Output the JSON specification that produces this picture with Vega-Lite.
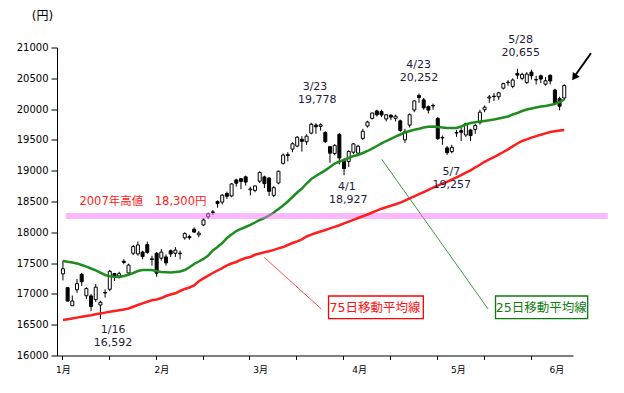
{
  "$schema": "https://vega.github.io/schema/vega-lite/v6.json",
  "width": 516,
  "height": 308,
  "autosize": "none",
  "padding": {"left": 57, "top": 47.5, "right": 51, "bottom": 37.5},
  "background": "white",
  "config": {
    "view": {"stroke": null},
    "font": "DejaVu Sans, Noto Sans CJK JP",
    "axis": {"labelFont": "DejaVu Sans, Noto Sans CJK JP", "titleFont": "DejaVu Sans, Noto Sans CJK JP"}
  },
  "resolve": {"axis": {"x": "independent", "y": "independent"}},
  "datasets": {
    "candles": [
      {"i":0,"o":17325,"h":17540,"l":17219,"c":17408},
      {"i":1,"o":17101,"h":17111,"l":16881,"c":16883},
      {"i":2,"o":16808,"h":16974,"l":16808,"c":16885},
      {"i":3,"o":17067,"h":17243,"l":17016,"c":17167},
      {"i":4,"o":17318,"h":17342,"l":17129,"c":17197},
      {"i":5,"o":16970,"h":17108,"l":16918,"c":17087},
      {"i":6,"o":16967,"h":17000,"l":16720,"c":16795},
      {"i":7,"o":16907,"h":17160,"l":16870,"c":17108},
      {"i":8,"o":16820,"h":16890,"l":16592,"c":16864},
      {"i":9,"o":17023,"h":17075,"l":16940,"c":17014},
      {"i":10,"o":17075,"h":17390,"l":17044,"c":17366},
      {"i":11,"o":17330,"h":17340,"l":17210,"c":17280},
      {"i":12,"o":17290,"h":17359,"l":17250,"c":17329},
      {"i":13,"o":17530,"h":17564,"l":17480,"c":17511},
      {"i":14,"o":17340,"h":17490,"l":17330,"c":17468},
      {"i":15,"o":17660,"h":17795,"l":17630,"c":17768},
      {"i":16,"o":17650,"h":17850,"l":17620,"c":17795},
      {"i":17,"o":17680,"h":17700,"l":17560,"c":17606},
      {"i":18,"o":17800,"h":17850,"l":17650,"c":17674},
      {"i":19,"o":17570,"h":17620,"l":17460,"c":17558},
      {"i":20,"o":17660,"h":17680,"l":17280,"c":17336},
      {"i":21,"o":17580,"h":17730,"l":17540,"c":17678},
      {"i":22,"o":17600,"h":17640,"l":17460,"c":17504},
      {"i":23,"o":17700,"h":17720,"l":17600,"c":17648},
      {"i":24,"o":17660,"h":17760,"l":17600,"c":17711},
      {"i":25,"o":17660,"h":17700,"l":17560,"c":17652},
      {"i":26,"o":17910,"h":18000,"l":17880,"c":17979},
      {"i":27,"o":17930,"h":17960,"l":17880,"c":17913},
      {"i":28,"o":18050,"h":18080,"l":17990,"c":18004},
      {"i":29,"o":17960,"h":18020,"l":17920,"c":17987},
      {"i":30,"o":18120,"h":18230,"l":18100,"c":18199},
      {"i":31,"o":18250,"h":18320,"l":18220,"c":18300},
      {"i":32,"o":18320,"h":18360,"l":18280,"c":18332},
      {"i":33,"o":18500,"h":18520,"l":18400,"c":18466},
      {"i":34,"o":18490,"h":18620,"l":18450,"c":18603},
      {"i":35,"o":18630,"h":18660,"l":18540,"c":18585},
      {"i":36,"o":18590,"h":18800,"l":18570,"c":18785},
      {"i":37,"o":18850,"h":18870,"l":18740,"c":18797},
      {"i":38,"o":18870,"h":18880,"l":18700,"c":18826},
      {"i":39,"o":18900,"h":18920,"l":18760,"c":18815},
      {"i":40,"o":18690,"h":18740,"l":18600,"c":18703},
      {"i":41,"o":18680,"h":18760,"l":18650,"c":18752},
      {"i":42,"o":18830,"h":18990,"l":18800,"c":18971},
      {"i":43,"o":18900,"h":18920,"l":18720,"c":18790},
      {"i":44,"o":18880,"h":18900,"l":18590,"c":18665},
      {"i":45,"o":18600,"h":18750,"l":18570,"c":18723},
      {"i":46,"o":18800,"h":19000,"l":18780,"c":18991},
      {"i":47,"o":19120,"h":19280,"l":19100,"c":19254},
      {"i":48,"o":19260,"h":19300,"l":19150,"c":19246},
      {"i":49,"o":19350,"h":19460,"l":19300,"c":19437},
      {"i":50,"o":19400,"h":19560,"l":19380,"c":19544},
      {"i":51,"o":19510,"h":19560,"l":19310,"c":19476},
      {"i":52,"o":19470,"h":19590,"l":19420,"c":19560},
      {"i":53,"o":19610,"h":19778,"l":19590,"c":19754},
      {"i":54,"o":19740,"h":19770,"l":19600,"c":19713},
      {"i":55,"o":19720,"h":19770,"l":19650,"c":19746},
      {"i":56,"o":19620,"h":19640,"l":19450,"c":19471},
      {"i":57,"o":19390,"h":19400,"l":19130,"c":19285},
      {"i":58,"o":19280,"h":19430,"l":19250,"c":19411},
      {"i":59,"o":19590,"h":19610,"l":19100,"c":19207},
      {"i":60,"o":19150,"h":19200,"l":18927,"c":19035},
      {"i":61,"o":19150,"h":19330,"l":19060,"c":19313},
      {"i":62,"o":19300,"h":19450,"l":19270,"c":19435},
      {"i":63,"o":19285,"h":19420,"l":19260,"c":19398},
      {"i":64,"o":19525,"h":19680,"l":19500,"c":19640},
      {"i":65,"o":19725,"h":19810,"l":19700,"c":19790},
      {"i":66,"o":19850,"h":19940,"l":19830,"c":19937},
      {"i":67,"o":19970,"h":19990,"l":19880,"c":19907},
      {"i":68,"o":19960,"h":19990,"l":19870,"c":19905},
      {"i":69,"o":19840,"h":19920,"l":19800,"c":19908},
      {"i":70,"o":19900,"h":19920,"l":19820,"c":19870},
      {"i":71,"o":19850,"h":19910,"l":19800,"c":19885},
      {"i":72,"o":19810,"h":19830,"l":19630,"c":19652},
      {"i":73,"o":19500,"h":19680,"l":19450,"c":19634},
      {"i":74,"o":19740,"h":19930,"l":19700,"c":19909},
      {"i":75,"o":19985,"h":20140,"l":19950,"c":20133},
      {"i":76,"o":20220,"h":20252,"l":20100,"c":20187},
      {"i":77,"o":20150,"h":20180,"l":19990,"c":20020},
      {"i":78,"o":20040,"h":20060,"l":19930,"c":19983},
      {"i":79,"o":20050,"h":20090,"l":19990,"c":20059},
      {"i":80,"o":19850,"h":19870,"l":19500,"c":19520},
      {"i":81,"o":19540,"h":19570,"l":19420,"c":19531},
      {"i":82,"o":19370,"h":19400,"l":19257,"c":19292},
      {"i":83,"o":19310,"h":19420,"l":19280,"c":19379},
      {"i":84,"o":19610,"h":19660,"l":19550,"c":19620},
      {"i":85,"o":19650,"h":19700,"l":19480,"c":19624},
      {"i":86,"o":19580,"h":19780,"l":19550,"c":19764},
      {"i":87,"o":19660,"h":19680,"l":19480,"c":19570},
      {"i":88,"o":19670,"h":19760,"l":19600,"c":19733},
      {"i":89,"o":19780,"h":19990,"l":19750,"c":19950},
      {"i":90,"o":19990,"h":20060,"l":19950,"c":20030},
      {"i":91,"o":20180,"h":20230,"l":20100,"c":20197},
      {"i":92,"o":20210,"h":20260,"l":20130,"c":20203},
      {"i":93,"o":20200,"h":20280,"l":20150,"c":20264},
      {"i":94,"o":20340,"h":20430,"l":20320,"c":20414},
      {"i":95,"o":20430,"h":20470,"l":20380,"c":20437},
      {"i":96,"o":20370,"h":20500,"l":20340,"c":20472},
      {"i":97,"o":20580,"h":20655,"l":20490,"c":20551},
      {"i":98,"o":20500,"h":20590,"l":20470,"c":20563},
      {"i":99,"o":20430,"h":20600,"l":20410,"c":20569},
      {"i":100,"o":20600,"h":20640,"l":20480,"c":20543},
      {"i":101,"o":20480,"h":20540,"l":20400,"c":20473},
      {"i":102,"o":20540,"h":20560,"l":20420,"c":20488},
      {"i":103,"o":20405,"h":20520,"l":20380,"c":20460},
      {"i":104,"o":20550,"h":20560,"l":20400,"c":20457},
      {"i":105,"o":20310,"h":20330,"l":20080,"c":20100},
      {"i":106,"o":20170,"h":20200,"l":19980,"c":20046},
      {"i":107,"o":20180,"h":20400,"l":20150,"c":20383}
    ],
    "ma": [
      {"i":0,"g":17534,"r":16576},{"i":1,"g":17521,"r":16588},{"i":2,"g":17510,"r":16601},{"i":3,"g":17495,"r":16615},{"i":4,"g":17469,"r":16628},
      {"i":5,"g":17443,"r":16641},{"i":6,"g":17412,"r":16654},{"i":7,"g":17383,"r":16669},{"i":8,"g":17344,"r":16682},{"i":9,"g":17307,"r":16696},
      {"i":10,"g":17286,"r":16711},{"i":11,"g":17279,"r":16724},{"i":12,"g":17276,"r":16735},{"i":13,"g":17291,"r":16747},{"i":14,"g":17310,"r":16763},
      {"i":15,"g":17339,"r":16792},{"i":16,"g":17372,"r":16820},{"i":17,"g":17388,"r":16847},{"i":18,"g":17388,"r":16873},{"i":19,"g":17388,"r":16896},
      {"i":20,"g":17367,"r":16909},{"i":21,"g":17356,"r":16933},{"i":22,"g":17351,"r":16966},{"i":23,"g":17347,"r":16990},{"i":24,"g":17356,"r":17010},
      {"i":25,"g":17364,"r":17047},{"i":26,"g":17388,"r":17080},{"i":27,"g":17433,"r":17104},{"i":28,"g":17485,"r":17136},{"i":29,"g":17526,"r":17205},
      {"i":30,"g":17567,"r":17252},{"i":31,"g":17623,"r":17297},{"i":32,"g":17705,"r":17339},{"i":33,"g":17761,"r":17380},{"i":34,"g":17826,"r":17420},
      {"i":35,"g":17907,"r":17463},{"i":36,"g":17964,"r":17494},{"i":37,"g":18021,"r":17518},{"i":38,"g":18054,"r":17555},{"i":39,"g":18086,"r":17583},
      {"i":40,"g":18119,"r":17599},{"i":41,"g":18159,"r":17635},{"i":42,"g":18200,"r":17657},{"i":43,"g":18232,"r":17675},{"i":44,"g":18273,"r":17692},
      {"i":45,"g":18321,"r":17714},{"i":46,"g":18378,"r":17739},{"i":47,"g":18435,"r":17761},{"i":48,"g":18500,"r":17794},{"i":49,"g":18573,"r":17826},
      {"i":50,"g":18646,"r":17852},{"i":51,"g":18711,"r":17886},{"i":52,"g":18792,"r":17932},{"i":53,"g":18865,"r":17963},{"i":54,"g":18914,"r":17989},
      {"i":55,"g":18960,"r":18013},{"i":56,"g":19006,"r":18037},{"i":57,"g":19060,"r":18063},{"i":58,"g":19117,"r":18089},{"i":59,"g":19149,"r":18115},
      {"i":60,"g":19174,"r":18144},{"i":61,"g":19206,"r":18174},{"i":62,"g":19239,"r":18203},{"i":63,"g":19255,"r":18232},{"i":64,"g":19287,"r":18261},
      {"i":65,"g":19320,"r":18289},{"i":66,"g":19360,"r":18321},{"i":67,"g":19401,"r":18352},{"i":68,"g":19442,"r":18383},{"i":69,"g":19482,"r":18407},
      {"i":70,"g":19515,"r":18430},{"i":71,"g":19555,"r":18455},{"i":72,"g":19588,"r":18481},{"i":73,"g":19620,"r":18515},{"i":74,"g":19645,"r":18549},
      {"i":75,"g":19666,"r":18583},{"i":76,"g":19682,"r":18619},{"i":77,"g":19701,"r":18654},{"i":78,"g":19713,"r":18690},{"i":79,"g":19718,"r":18724},
      {"i":80,"g":19709,"r":18758},{"i":81,"g":19701,"r":18791},{"i":82,"g":19693,"r":18821},{"i":83,"g":19693,"r":18856},{"i":84,"g":19693,"r":18890},
      {"i":85,"g":19718,"r":18927},{"i":86,"g":19750,"r":18968},{"i":87,"g":19774,"r":19005},{"i":88,"g":19786,"r":19052},{"i":89,"g":19797,"r":19097},
      {"i":90,"g":19807,"r":19145},{"i":91,"g":19818,"r":19184},{"i":92,"g":19831,"r":19222},{"i":93,"g":19847,"r":19261},{"i":94,"g":19864,"r":19304},
      {"i":95,"g":19880,"r":19347},{"i":96,"g":19912,"r":19395},{"i":97,"g":19937,"r":19442},{"i":98,"g":19969,"r":19482},{"i":99,"g":19994,"r":19508},
      {"i":100,"g":20010,"r":19536},{"i":101,"g":20026,"r":19562},{"i":102,"g":20042,"r":19583},{"i":103,"g":20050,"r":19606},{"i":104,"g":20067,"r":19627},
      {"i":105,"g":20083,"r":19640},{"i":106,"g":20115,"r":19651},{"i":107,"g":20156,"r":19661}
    ],
    "notes": [
      {"i":10.7,"v":16406,"t":"1/16"},
      {"i":10.7,"v":16195,"t":"16,592"},
      {"i":53.8,"v":20364,"t":"3/23"},
      {"i":54.3,"v":20153,"t":"19,778"},
      {"i":60.6,"v":18738,"t":"4/1"},
      {"i":60.9,"v":18527,"t":"18,927"},
      {"i":75.9,"v":20712,"t":"4/23"},
      {"i":76.0,"v":20501,"t":"20,252"},
      {"i":82.9,"v":18977,"t":"5/7"},
      {"i":83.0,"v":18766,"t":"19,257"},
      {"i":97.7,"v":21123,"t":"5/28"},
      {"i":97.7,"v":20912,"t":"20,655"}
    ],
    "band": [{"i":0.6,"i2":116.3,"v":18265}],
    "bandlabel": [{"i":3.53,"v":18489,"t":"2007年高値　18,300円"}],
    "leaders": [
      {"i":42.94,"v":17594,"i2":55.16,"v2":16755,"col":"#FF5050"},
      {"i":68.05,"v":19185,"i2":90.74,"v2":16755,"col":"#3C9C3C"}
    ],
    "boxes": [
      {"i":56.69,"i2":76.92,"v":16966,"v2":16597,"col":"#FF0000"},
      {"i":92.33,"i2":112.0,"v":16966,"v2":16597,"col":"#0E7A0E"}
    ],
    "boxtext": [
      {"i":66.6,"v":16779,"t":"75日移動平均線","col":"#FF1010"},
      {"i":102.1,"v":16779,"t":"25日移動平均線","col":"#107A10"}
    ],
    "arrow": [{"i":112.7,"v":20906,"i2":109.4,"v2":20554}],
    "arrowhead": [{"i":109.13,"v":20515}]
  },
  "encoding": {
    "x": {"field": "i", "type": "quantitative", "scale": {"domain": [-0.2, 107.8], "nice": false, "zero": false}, "axis": null},
    "y": {"field": "v", "type": "quantitative", "scale": {"domain": [16000, 21000], "nice": false, "zero": false}, "axis": null}
  },
  "layer": [
    {
      "data": {"name": "candles"},
      "mark": {"type": "rule", "color": "black", "strokeWidth": 1},
      "encoding": {
        "x": {"field": "i", "type": "quantitative", "scale": {"domain": [-0.2, 107.8], "nice": false, "zero": false},
          "axis": {"orient": "bottom", "values": [-0.2, 9.8, 19.8, 29.8, 39.8, 49.8, 59.8, 69.8, 79.8, 89.8, 99.8], "labels": false, "tickSize": 4, "tickColor": "black", "domainColor": "black", "grid": false, "title": null}},
        "y": {"field": "l", "type": "quantitative", "scale": {"domain": [16000, 21000], "nice": false, "zero": false},
          "axis": {"values": [16000, 16500, 17000, 17500, 18000, 18500, 19000, 19500, 20000, 20500, 21000], "format": "d", "grid": false, "tickSize": 6, "tickColor": "black", "domainColor": "black", "labelColor": "black", "labelFontSize": 10, "labelPadding": 3, "labelFlush": false, "labelOverlap": false, "title": "(円)", "titleAngle": 0, "titleX": -15, "titleY": -32, "titleAlign": "center", "titleBaseline": "middle", "titleFontSize": 12, "titleFontWeight": "normal", "titleColor": "black"}},
        "y2": {"field": "h"}
      }
    },
    {
      "data": {"name": "candles"},
      "mark": {"type": "bar", "width": 3, "stroke": "black", "strokeWidth": 1},
      "encoding": {
        "x": {"field": "i", "type": "quantitative", "scale": {"domain": [-0.2, 107.8], "nice": false, "zero": false},
          "axis": {"orient": "bottom", "values": [0, 21, 42.1, 63.2, 84.3, 105.3], "ticks": false, "domain": false, "grid": false, "labelExpr": "round(datum.value / 21.05) + 1 + '月'", "labelFontSize": 9, "labelPadding": 10, "labelColor": "black", "labelFlush": false, "labelOverlap": false, "title": null}},
        "y": {"field": "o", "type": "quantitative", "scale": {"domain": [16000, 21000], "nice": false, "zero": false}},
        "y2": {"field": "c"},
        "fill": {"condition": {"test": "datum.c >= datum.o", "value": "white"}, "value": "black"}
      }
    },
    {
      "data": {"name": "ma"},
      "mark": {"type": "line", "color": "#1E8C1E", "strokeWidth": 2.5},
      "encoding": {
        "y": {"field": "g", "type": "quantitative", "scale": {"domain": [16000, 21000], "nice": false, "zero": false}}
      }
    },
    {
      "data": {"name": "leaders"},
      "mark": {"type": "rule", "strokeWidth": 1},
      "encoding": {
        "x2": {"field": "i2"},
        "y2": {"field": "v2"},
        "color": {"field": "col", "type": "nominal", "scale": null}
      }
    },
    {
      "data": {"name": "band"},
      "mark": {"type": "rule", "color": "#F573F5", "opacity": 0.5, "strokeWidth": 6},
      "encoding": {"x2": {"field": "i2"}}
    },
    {
      "data": {"name": "ma"},
      "mark": {"type": "line", "color": "#FF1E1E", "strokeWidth": 2.5},
      "encoding": {
        "y": {"field": "r", "type": "quantitative", "scale": {"domain": [16000, 21000], "nice": false, "zero": false}}
      }
    },
    {
      "data": {"name": "boxes"},
      "mark": {"type": "rect", "fill": "white", "strokeWidth": 1.3},
      "encoding": {
        "x2": {"field": "i2"},
        "y2": {"field": "v2"},
        "stroke": {"field": "col", "type": "nominal", "scale": null}
      }
    },
    {
      "data": {"name": "boxtext"},
      "mark": {"type": "text", "fontSize": 12.5, "align": "center", "baseline": "middle"},
      "encoding": {
        "text": {"field": "t"},
        "color": {"field": "col", "type": "nominal", "scale": null}
      }
    },
    {
      "data": {"name": "notes"},
      "mark": {"type": "text", "fontSize": 11, "align": "center", "baseline": "middle", "color": "#1c1c3c"},
      "encoding": {"text": {"field": "t"}}
    },
    {
      "data": {"name": "bandlabel"},
      "mark": {"type": "text", "fontSize": 11.5, "align": "left", "baseline": "middle", "color": "#FF2020"},
      "encoding": {"text": {"field": "t"}}
    },
    {
      "data": {"name": "arrow"},
      "mark": {"type": "rule", "color": "black", "strokeWidth": 2},
      "encoding": {"x2": {"field": "i2"}, "y2": {"field": "v2"}}
    },
    {
      "data": {"name": "arrowhead"},
      "mark": {"type": "point", "shape": "triangle-up", "filled": true, "color": "black", "size": 70, "angle": 215, "opacity": 1},
      "encoding": {}
    }
  ]
}
